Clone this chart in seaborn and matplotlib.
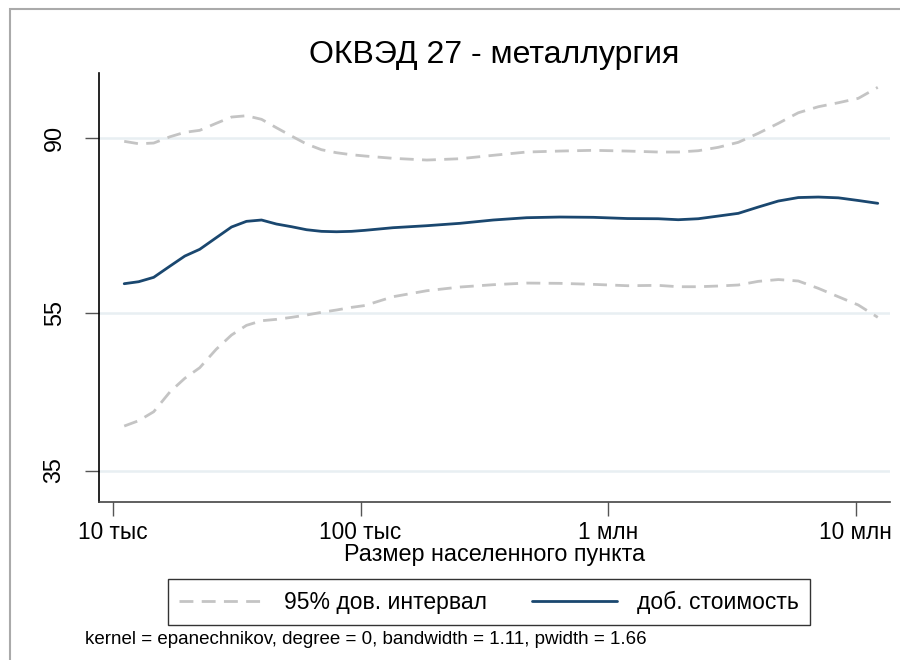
import numpy as np
import pandas as pd
import matplotlib
matplotlib.use("Agg")
import matplotlib.pyplot as plt
import seaborn as sns
from matplotlib.patches import Rectangle

# settlement size, thousands of people
population = [11.1, 12.7, 14.6, 17.0, 19.5, 22.4, 26.1, 30.1, 34.6, 39.8,
              45.7, 52.6, 60.5, 69.5, 79.9, 91.9, 104, 135, 185, 252,
              343, 468, 638, 870, 1196, 1592, 1918, 2310, 2782, 3352,
              4037, 4863, 5857, 7055, 8498, 10235, 12260]

value_added = [59.37, 59.71, 60.46, 62.44, 64.25, 65.50, 67.70, 69.81, 70.95, 71.22,
               70.41, 69.87, 69.27, 68.95, 68.87, 68.95, 69.15, 69.67, 70.07, 70.55,
               71.22, 71.69, 71.83, 71.77, 71.52, 71.48, 71.28, 71.48, 72.03, 72.59,
               73.91, 75.19, 75.94, 76.05, 75.88, 75.30, 74.70]

ci_upper = [89.17, 88.56, 88.74, 90.35, 91.50, 92.02, 93.88, 95.58, 95.94, 94.96,
            92.71, 90.53, 88.49, 87.06, 86.32, 85.82, 85.51, 84.95, 84.53, 84.85,
            85.68, 86.49, 86.73, 86.91, 86.73, 86.49, 86.49, 86.81, 87.66, 88.92,
            91.24, 93.88, 96.76, 98.44, 99.57, 100.83, 104.05]

ci_lower = [39.53, 40.14, 41.18, 43.60, 45.31, 46.70, 49.22, 51.27, 52.71, 53.41,
            53.62, 53.93, 54.29, 54.71, 55.07, 55.49, 55.78, 57.20, 58.19, 58.81,
            59.20, 59.48, 59.43, 59.26, 59.03, 59.09, 58.86, 58.86, 58.98, 59.15,
            59.77, 60.08, 59.83, 58.59, 57.20, 55.86, 53.93]

x_ticks = [10, 100, 1000, 10000]
x_tick_labels = ["10 тыс", "100 тыс", "1 млн", "10 млн"]
# y is on a log scale, ticks sit at ln = 3.55, 4.0, 4.5
y_ticks = [np.exp(3.55), np.exp(4.0), np.exp(4.5)]
y_tick_labels = ["35", "55", "90"]

sns.set_theme(style="white")
plt.rcParams["font.family"] = ["Liberation Sans", "DejaVu Sans"]
plt.rcParams["text.color"] = "black"
plt.rcParams["axes.labelcolor"] = "black"

navy = "#1a476f"
grey = "#c4c4c4"

fig = plt.figure(figsize=(9, 6.6), dpi=100)
ax = fig.add_axes([0.110, 0.2394, 0.879, 0.650])

df = pd.DataFrame({"pop": population, "va": value_added,
                   "hi": ci_upper, "lo": ci_lower})

sns.lineplot(data=df, x="pop", y="hi", ax=ax, color=grey, lw=2,
             label="95% дов. интервал")
sns.lineplot(data=df, x="pop", y="lo", ax=ax, color=grey, lw=2,
             label="_nolegend_")
sns.lineplot(data=df, x="pop", y="va", ax=ax, color=navy, lw=2,
             label="доб. стоимость")
for line in ax.lines[:2]:
    line.set_dashes([5, 3])

ax.set_xscale("log")
ax.set_yscale("log")
ax.set_xlim(8.78, 13750)
ax.set_ylim(31.82, 108.4)

ax.set_xticks(x_ticks)
ax.set_xticklabels(x_tick_labels)
ax.set_yticks(y_ticks)
ax.set_yticklabels(y_tick_labels, rotation=90, va="center")
ax.minorticks_off()
ax.tick_params(axis="x", length=10, width=1, color="#555555", pad=4,
               labelsize=16.3, labelcolor="black", bottom=True)
ax.tick_params(axis="y", length=10, width=1, color="#555555", pad=14,
               labelsize=16.8, labelcolor="black", left=True)

ax.yaxis.grid(True, color="#e8eff2", lw=1.8)
ax.xaxis.grid(False)
ax.set_axisbelow(True)

for side in ["top", "right"]:
    ax.spines[side].set_visible(False)
ax.spines["left"].set_color("black")
ax.spines["left"].set_linewidth(1.2)
ax.spines["bottom"].set_color("#444444")
ax.spines["bottom"].set_linewidth(1.2)

ax.set_xlabel("Размер населенного пункта", fontsize=16.8, labelpad=-1)
ax.set_ylabel("")
ax.set_title("ОКВЭД 27 - металлургия", fontsize=23, pad=7)

handles, labels = ax.get_legend_handles_labels()
ax.get_legend().remove()
leg = fig.legend(handles, labels, loc="center",
                 bbox_to_anchor=(489 / 900, 1 - 602 / 660),
                 ncol=2, fontsize=16.5, frameon=True, fancybox=False,
                 edgecolor="black", handlelength=3.7, handletextpad=0.85,
                 columnspacing=2.0, borderpad=0.5)
leg.get_frame().set_linewidth(1.0)

fig.text(85 / 900, 1 - 640 / 660,
         "kernel = epanechnikov, degree = 0, bandwidth = 1.11, pwidth = 1.66",
         fontsize=13.5, va="center", ha="left")

# outer graph-region border, cropped on the right and bottom
fig.patches.append(Rectangle((10 / 900, -0.1), 1.2, 1.1 - 9 / 660,
                             transform=fig.transFigure, fill=False,
                             edgecolor="#aaaaaa", lw=1.5))

fig.savefig("out.png", dpi=100, facecolor="white")
